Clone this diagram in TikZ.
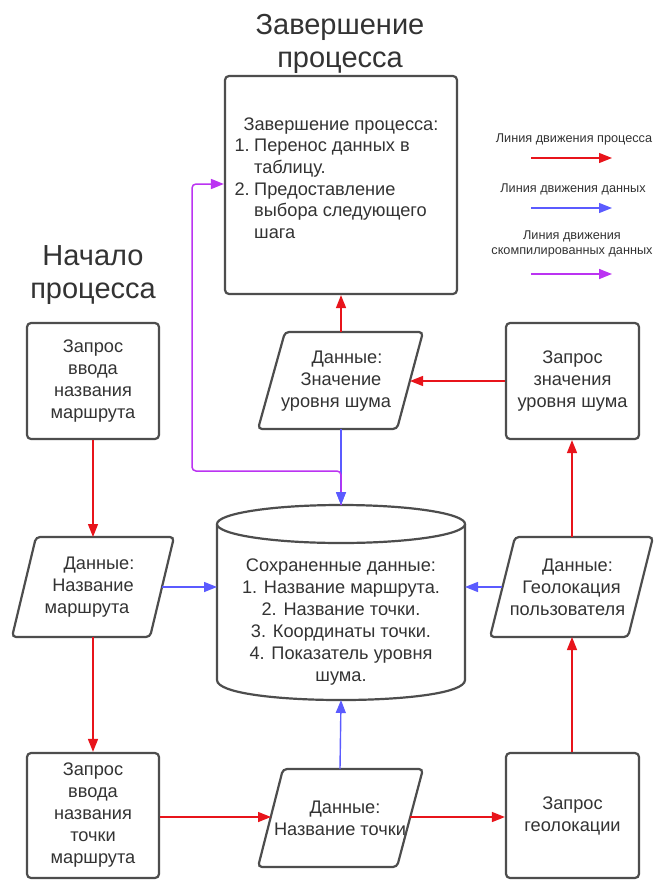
\documentclass[tikz,border=0pt]{standalone}
\usepackage{fontspec}
\setmainfont{Liberation Sans}
\usetikzlibrary{arrows.meta}
\definecolor{ored}{HTML}{E8141B}
\definecolor{oblue}{HTML}{5B5BFF}
\definecolor{opurple}{HTML}{BB33F2}
\definecolor{oedge}{HTML}{4D4D4D}
\definecolor{otext}{HTML}{333333}
\begin{document}
\begin{tikzpicture}[x=1pt,y=-1pt,
  box/.style={draw=oedge,line width=2.2pt,rounded corners=4pt,fill=white},
  pshape/.style={draw=oedge,line width=2.2pt,rounded corners=4pt,fill=white},
  txt/.style={align=center,font=\fontsize{18.2}{22}\selectfont,text=otext,inner sep=0pt},
  ltxt/.style={font=\fontsize{18.2}{22}\selectfont,text=otext,inner sep=0pt},
  title/.style={align=center,font=\fontsize{29}{33}\selectfont,text=otext,inner sep=0pt},
  legtxt/.style={align=center,font=\fontsize{12.7}{15}\selectfont,text=otext,inner sep=0pt},
  tip/.style={-{Triangle[length=13pt,width=10pt]}},
  flow/.style={draw=ored,line width=1.4pt,tip},
  dataflow/.style={draw=oblue,line width=1.4pt,tip},
  compflow/.style={draw=opurple,line width=1.5pt,tip,rounded corners=4pt}
]
\useasboundingbox[fill=white] (0,0) rectangle (655,880);

% titles
\node[title] (title1) at (340,44) {Завершение\\процесса};
\node[title] (title2) at (93,275) {Начало\\процесса};

% end box
\node[box,minimum width=232pt,minimum height=218pt] (endbox) at (341,185) {};
\node[ltxt,anchor=mid] (endhead) at (341,128) {Завершение процесса:};
\node[ltxt,anchor=mid east] (endn1) at (250,149) {1.};
\node[ltxt,anchor=mid west] (endl1) at (254,149) {Перенос данных в};
\node[ltxt,anchor=mid west] (endl2) at (254,171) {таблицу.};
\node[ltxt,anchor=mid east] (endn2) at (250,193) {2.};
\node[ltxt,anchor=mid west] (endl3) at (254,193) {Предоставление};
\node[ltxt,anchor=mid west] (endl4) at (254,214) {выбора следующего};
\node[ltxt,anchor=mid west] (endl5) at (254,236) {шага};

% legend
\node[legtxt] (leg1) at (574,139) {Линия движения процесса};
\coordinate (leg1a) at (531,158); \coordinate (leg1b) at (612,158);
\node[legtxt] (leg2) at (573,189) {Линия движения данных};
\coordinate (leg2a) at (531,208); \coordinate (leg2b) at (612,208);
\node[legtxt] (leg3) at (572,244) {Линия движения\\скомпилированных данных};
\coordinate (leg3a) at (531,274); \coordinate (leg3b) at (612,274);
\draw[flow] (leg1a) -- (leg1b);
\draw[dataflow] (leg2a) -- (leg2b);
\draw[compflow] (leg3a) -- (leg3b);

% boxes
\node[box,txt,minimum width=132pt,minimum height=116pt] (b1) at (93,381) {Запрос\\ввода\\названия\\маршрута};
\node[box,txt,minimum width=133pt,minimum height=116pt] (b2) at (572.5,381) {Запрос\\значения\\уровня шума};
\node[box,txt,minimum width=132pt,minimum height=125pt] (b3) at (93,815.5) {Запрос\\ввода\\названия\\точки\\маршрута};
\node[box,txt,minimum width=133pt,minimum height=125pt] (b4) at (572.5,815.5) {Запрос\\геолокации};

% parallelograms
\draw[pshape] (285,332) -- (423,332) -- (397,429) -- (258,429) -- cycle;
\node[txt] (pnoise) at (341,381) {\hspace*{12pt}Данные:\\Значение\\уровня шума\hspace*{10pt}};
\coordinate (pnoiseN) at (341,332); \coordinate (pnoiseS) at (341,429); \coordinate (pnoiseE) at (410,381);

\draw[pshape] (36,537) -- (174,537) -- (150,637) -- (12,637) -- cycle;
\node[txt] (proute) at (93,587) {\hspace*{12pt}Данные:\\Название\\маршрута\hspace*{12pt}};
\coordinate (prouteN) at (93,537); \coordinate (prouteS) at (93,637); \coordinate (prouteE) at (162,587);

\draw[pshape] (515,537) -- (653,537) -- (628,637) -- (490,637) -- cycle;
\node[txt] (pgeo) at (571.5,587) {\hspace*{12pt}Данные:\\Геолокация\\пользователя\hspace*{8pt}};
\coordinate (pgeoN) at (572,537); \coordinate (pgeoS) at (572,637); \coordinate (pgeoW) at (502,587);

\draw[pshape] (283,769) -- (423,769) -- (397,867) -- (258,867) -- cycle;
\node[txt] (ppoint) at (340,818) {\hspace*{10pt}Данные:\\Название точки};
\coordinate (ppointN) at (340,769); \coordinate (ppointW) at (271,817); \coordinate (ppointE) at (410,817);

% cylinder
\fill[white] (217,524) -- (217,680) .. controls (217,706.7) and (465,706.7) .. (465,680) -- (465,524) -- cycle;
\draw[draw=oedge,line width=2.2pt] (217,524) -- (217,680) .. controls (217,706.7) and (465,706.7) .. (465,680) -- (465,524);
\draw[draw=oedge,line width=2.2pt,fill=white] (341,524) ellipse [x radius=124, y radius=19];
\node[txt] (db) at (341,622) {Сохраненные данные:\\1. Название маршрута.\\2. Название точки.\\3. Координаты точки.\\4. Показатель уровня\\шума.};
\coordinate (dbN) at (341,505); \coordinate (dbS) at (341,700);
\coordinate (dbW) at (217,587); \coordinate (dbE) at (465,587);

% process flow
\draw[flow] (b1.south) -- (prouteN);
\draw[flow] (prouteS) -- (b3.north);
\draw[flow] (b3.east |- ppointW) -- (ppointW);
\draw[flow] (ppointE) -- (b4.west |- ppointE);
\draw[flow] (b4.north -| pgeoS) -- (pgeoS);
\draw[flow] (pgeoN) -- (b2.south -| pgeoN);
\draw[flow] (b2.west) -- (pnoiseE);
\draw[flow] (pnoiseN) -- (endbox.south -| pnoiseN);

% data flow
\draw[dataflow] (pnoiseS) -- (dbN);
\draw[dataflow] (prouteE) -- (dbW);
\draw[dataflow] (pgeoW) -- (dbE);
\draw[dataflow] (ppointN) -- (dbS);

% compiled data flow
\coordinate (cj) at (341,471);
\draw[compflow] (dbN) -- (cj) -- (192,471) -- (192,184) -- (endbox.west |- 0,184);
\fill[oblue] (dbN) -- ++(-5,-13) -- ++(10,0) -- cycle;
\end{tikzpicture}
\end{document}
